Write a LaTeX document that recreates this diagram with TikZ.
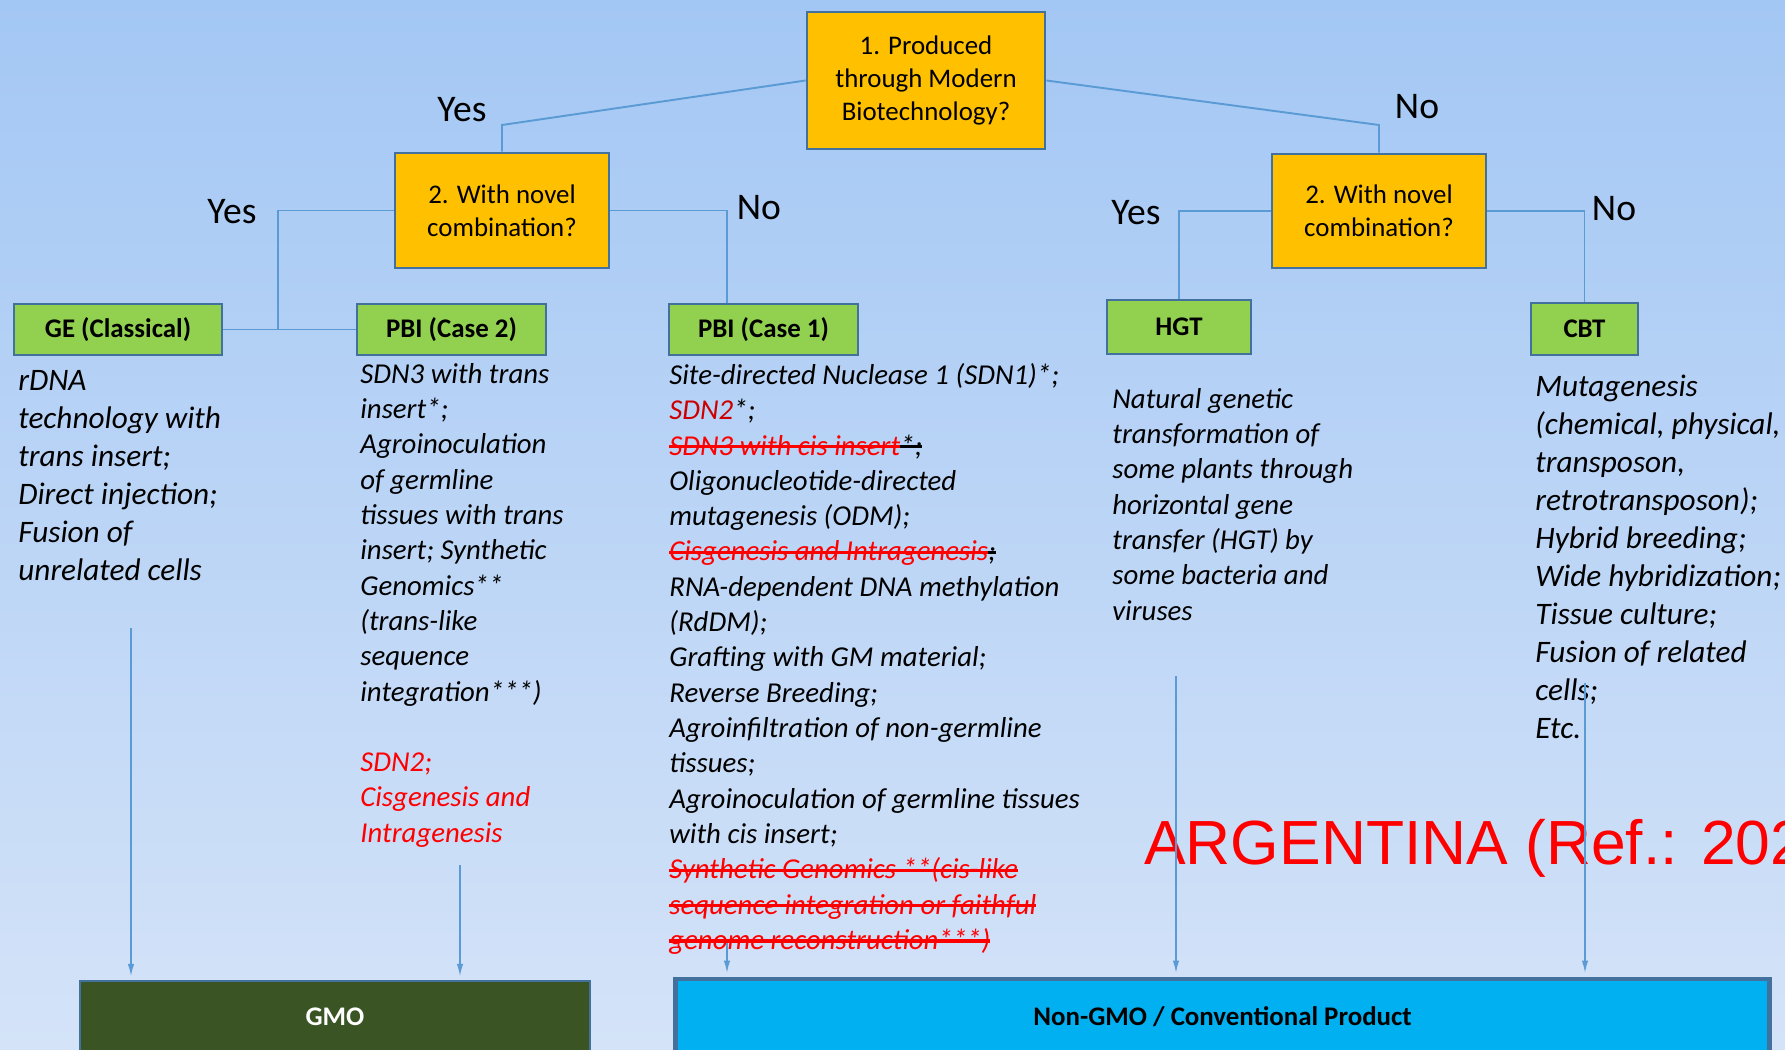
\documentclass[tikz,border=0pt]{standalone}
\usepackage{fontspec}
\setmainfont{Carlito}
\newfontfamily\argfont{Liberation Sans}
\usepackage{xcolor}
\definecolor{bgtop}{RGB}{163,199,244}
\definecolor{bgbottom}{RGB}{212,227,248}
\definecolor{qfill}{RGB}{255,192,0}
\definecolor{gfill}{RGB}{146,208,80}
\definecolor{frame}{RGB}{65,113,156}
\definecolor{link}{RGB}{91,155,213}
\definecolor{gmofill}{RGB}{58,84,36}
\definecolor{cyanfill}{RGB}{0,176,240}
\definecolor{darkred}{RGB}{204,0,0}
\usetikzlibrary{arrows.meta}
\usetikzlibrary{positioning}

\newsavebox\strikebox
\newcommand\strikethrough[2]{\sbox\strikebox{\color{#1}#2}\rlap{\usebox\strikebox}{\color{#1}\rule[0.5ex]{\wd\strikebox}{1.9pt}}}

\begin{document}
\begin{tikzpicture}[x=0.02cm, y=-0.02cm,
    question/.style={draw=frame, line width=1.6pt, fill=qfill, align=center,
        font=\fontsize{15.3}{18.7}\selectfont},
    method/.style={draw=frame, line width=1.6pt, fill=gfill, minimum height=1.02cm,
        font=\fontsize{15.3}{18}\selectfont\bfseries},
    answer/.style={font=\fontsize{21.4}{24}\selectfont, inner sep=0},
    bigtext/.style={anchor=north west, inner sep=0, align=left,
        font=\fontsize{17.8}{21.6}\selectfont\itshape},
    smalltext/.style={anchor=north west, inner sep=0, align=left,
        font=\fontsize{16.4}{20.1}\selectfont\itshape},
    link/.style={draw=link, line width=1.1pt},
    flow/.style={draw=link, line width=0.85pt, -{Latex[length=7pt,width=3.6pt]}, shorten >=2pt}]

\useasboundingbox (0,0) rectangle (1785,1050);
\clip (0,0) rectangle (1785,1050);
\fill[top color=bgtop, bottom color=bgbottom] (0,0) rectangle (1785,1050);

\node(q1)[question, minimum width=4.76cm, minimum height=2.74cm] at (926,80.5) {1. Produced\\through Modern\\Biotechnology?};
\node(q2l)[question, minimum width=4.28cm, minimum height=2.3cm] at (502,210.5) {2. With novel\\combination?};
\node(q2r)[question, minimum width=4.28cm, minimum height=2.28cm] at (1379,211) {2. With novel\\combination?};

\node(ge)[method, minimum width=4.16cm] at (118,329.5) {GE (Classical)};
\node(pbi2)[method, minimum width=3.78cm] at (451.5,329.5) {PBI (Case 2)};
\node(pbi1)[method, minimum width=3.78cm] at (763.5,329.5) {PBI (Case 1)};
\node(hgt)[method, minimum width=2.88cm, minimum height=1.08cm] at (1179,327) {HGT};
\node(cbt)[method, minimum width=2.14cm, minimum height=1.04cm] at (1584.5,329) {CBT};

\node(gmo)[draw=frame, line width=1.4pt, fill=gmofill, text=white, minimum width=10.2cm, minimum height=1.44cm,
    font=\fontsize{15.3}{18}\selectfont\bfseries] at (335,1017) {GMO};
\node(nongmo)[draw=frame, line width=2.8pt, fill=cyanfill, minimum width=21.9cm, minimum height=1.52cm,
    font=\fontsize{15.3}{18}\selectfont\bfseries] at (1222.5,1017) {Non-GMO / Conventional Product};

\coordinate (kinkl) at (502,125);
\coordinate (kinkr) at (1379,125);
\coordinate (forkl) at (278,329.5);

\draw[link] (q1.west) -- (kinkl) -- (q2l.north);
\draw[link] (q1.east) -- (kinkr) -- (q2r.north);
\draw[link] (q2l.west) -| (forkl);
\draw[link] (ge.east) -- (pbi2.west);
\draw[link] (q2l.east) -| (727,0 |- pbi1.north);
\draw[link] (q2r.west) -| (hgt.north);
\draw[link] (q2r.east) -| (cbt.north);

\node(yes1)[answer] at (462,110) {Yes};
\node(no1)[answer] at (1417,107) {No};
\node(yes2)[answer] at (232,212) {Yes};
\node(no2)[answer] at (759,208) {No};
\node(yes3)[answer] at (1136,213) {Yes};
\node(no3)[answer] at (1614,209) {No};

\node(getext)[bigtext] at (18,370) {rDNA\\technology with\\trans insert;\\Direct injection;\\Fusion of\\unrelated cells};

\node(pbi2text)[smalltext] at (360,363) {SDN3 with trans\\insert*;\\Agroinoculation\\of germline\\tissues with trans\\insert; Synthetic\\Genomics**\\(trans-like\\sequence\\integration***)\\[20pt]
    \color{red}SDN2;\\\color{red}Cisgenesis and\\\color{red}Intragenesis};

\node(pbi1text)[smalltext] at (669,363) {Site-directed Nuclease 1 (SDN1)*;\\{\color{darkred}SDN2}*;\\\strikethrough{red}{SDN3 with cis insert}\strikethrough{black}{*;}\\Oligonucleotide-directed\\mutagenesis (ODM);\\\strikethrough{red}{Cisgenesis and Intragenesis}\strikethrough{black}{;}\\RNA-dependent DNA methylation\\(RdDM);\\Grafting with GM material;\\Reverse Breeding;\\Agroinfiltration of non-germline\\tissues;\\Agroinoculation of germline tissues\\with cis insert;\\\strikethrough{red}{Synthetic Genomics **(cis-like}\\\strikethrough{red}{sequence integration or faithful}\\\strikethrough{red}{genome reconstruction***)}};

\node(hgttext)[smalltext] at (1112,388) {Natural genetic\\transformation of\\some plants through\\horizontal gene\\transfer (HGT) by\\some bacteria and\\viruses};

\node(cbttext)[bigtext] at (1535,375) {Mutagenesis\\(chemical, physical,\\transposon,\\retrotransposon);\\Hybrid breeding;\\Wide hybridization;\\Tissue culture;\\Fusion of related\\cells;\\Etc.};

\node(argentina)[anchor=base west, inner sep=0, text=red, font=\argfont\fontsize{35.5}{40}\selectfont] at (1144,864) {ARGENTINA (Ref.: 202};

\coordinate (geout) at (131,628);
\coordinate (pbi2out) at (460,865);
\coordinate (pbi1out) at (727,943);
\coordinate (hgtout) at (1176,676);
\coordinate (cbtout) at (1585,683);

\draw[flow] (geout) -- (geout |- gmo.north);
\draw[flow] (pbi2out) -- (pbi2out |- gmo.north);
\draw[flow] (pbi1out) -- (pbi1out |- nongmo.north);
\draw[flow] (hgtout) -- (hgtout |- nongmo.north);
\draw[flow] (cbtout) -- (cbtout |- nongmo.north);
\end{tikzpicture}
\end{document}
